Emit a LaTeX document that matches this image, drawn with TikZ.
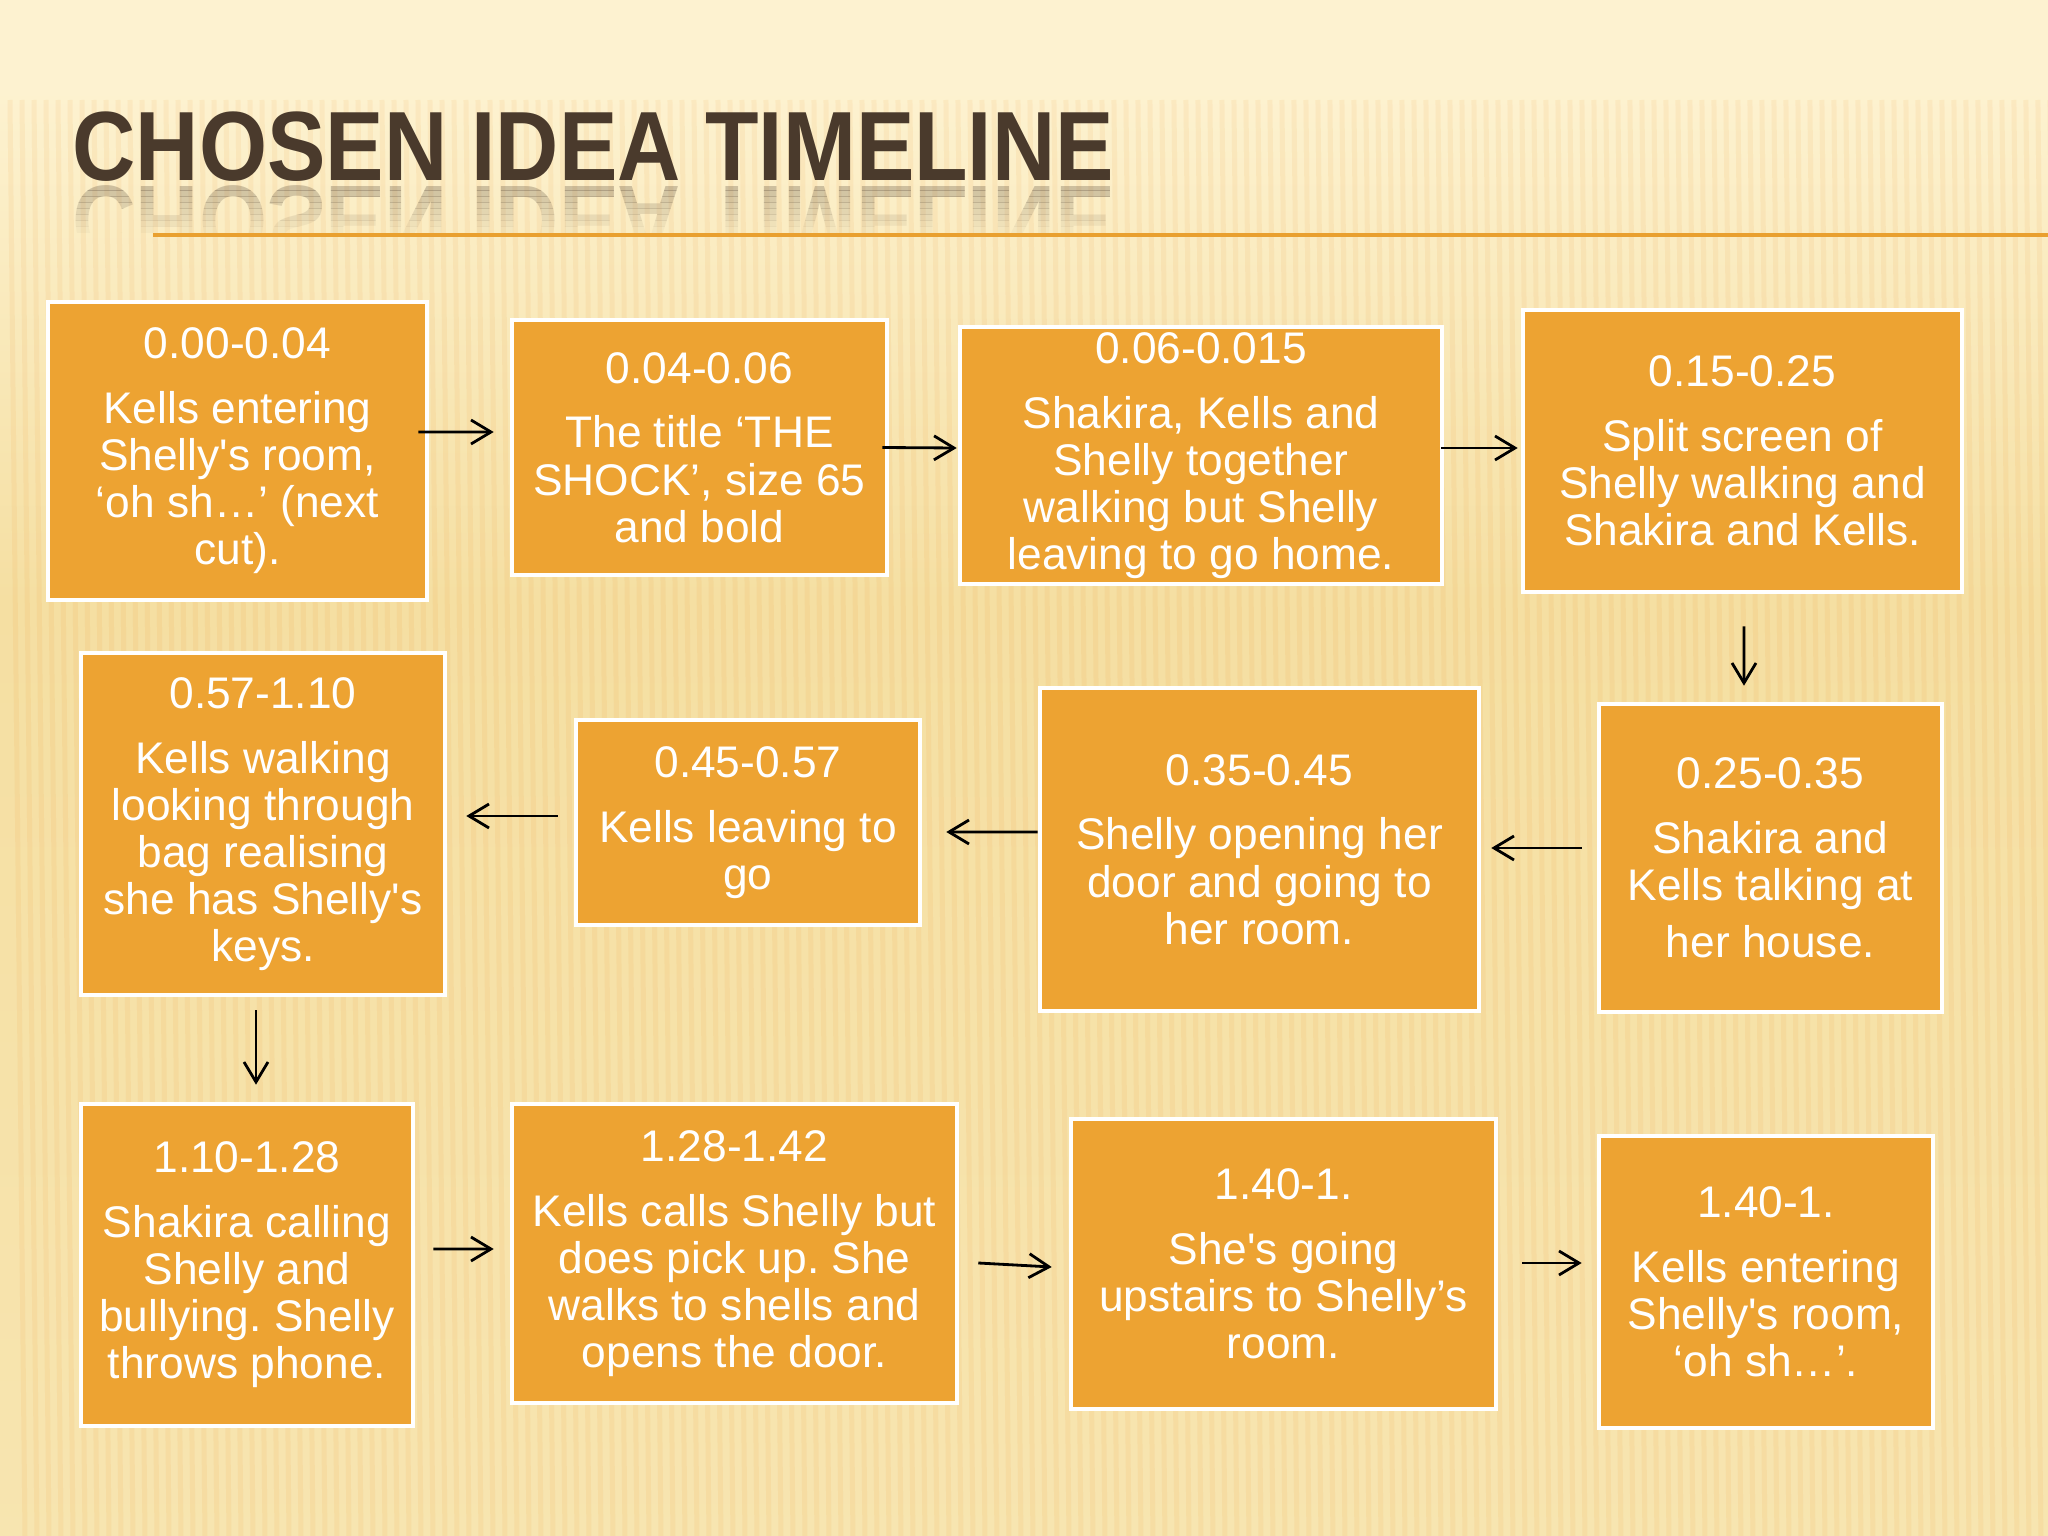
\documentclass[tikz,border=0pt]{standalone}
\usepackage{fontspec}
\setmainfont{Liberation Sans}
\newfontfamily\headfont[FakeStretch=0.89]{Liberation Sans Bold}
\usetikzlibrary{arrows.meta}
\definecolor{boxorange}{HTML}{EDA332}
\definecolor{titlebrown}{HTML}{4A3A2C}
\definecolor{rulecol}{HTML}{E9A030}
\definecolor{paper}{HTML}{FDF2D0}
\definecolor{paperdark}{HTML}{F5DFA2}
\frenchspacing

\begin{document}
\begin{tikzpicture}[>={Straight Barb[length=2mm,width=2.4mm]},
  box/.style={draw=white,line width=1.3pt,fill=boxorange,text=white,align=center,inner sep=0pt,font=\fontsize{12.6}{13.4}\selectfont},
  arr/.style={->,line width=0.8pt,black},
  headtext/.style={anchor=base west,inner sep=0pt,text=titlebrown,font=\headfont\fontsize{28}{30}\selectfont}]
\useasboundingbox (0,0) rectangle (20.48,-15.36);
% background
\fill[paper] (0,0) rectangle (20.48,-15.36);
\shade[top color=paper,bottom color=paperdark] (0,-0.9) rectangle (20.48,-6.0);
\shade[top color=paperdark,bottom color=paperdark!70!paper] (0,-6.0) rectangle (20.48,-15.36);
\foreach \x in {0.1,0.22,...,20.5}
  \draw[orange!70!brown,opacity=0.08,line width=0.05cm] (\x,-1.0) -- (\x+0.15,-15.36);

% title and its mirror image
\node[headtext] (title) at (0.72,-1.81) {CHOSEN IDEA TIMELINE};
\foreach \k in {0,...,7}{
  \pgfmathsetmacro\op{0.26-0.032*\k}
  \begin{scope}
    \clip (0,-1.85-0.06*\k) rectangle (12,-1.91-0.06*\k);
    \node[headtext,opacity=\op,yscale=-1,transform shape] (mirror) at (0.72,-1.87) {CHOSEN IDEA TIMELINE};
  \end{scope}}
\draw[rulecol,line width=0.045cm] (1.53,-2.35) -- (20.48,-2.35);

% first row
\node[box,minimum width=3.79cm,minimum height=2.98cm] (n1) at (2.375,-4.51) {0.00-0.04\\[5pt]Kells entering\\Shelly\textquotesingle s room,\\‘oh sh…’ (next\\cut).};
\node[box,minimum width=3.75cm,minimum height=2.55cm] (n2) at (6.995,-4.475) {0.04-0.06\\[5pt]The title ‘THE\\SHOCK’, size 65\\and bold};
\node[box,minimum width=4.82cm,minimum height=2.57cm] (n3) at (12.01,-4.555) {0.06-0.015\\[5pt]Shakira, Kells and\\Shelly together\\walking but Shelly\\leaving to go home.};
\node[box,minimum width=4.39cm,minimum height=2.82cm] (n4) at (17.425,-4.51) {0.15-0.25\\[5pt]Split screen of\\Shelly walking and\\Shakira and Kells.};

% second row
\node[box,minimum width=3.43cm,minimum height=3.08cm] (n5) at (17.705,-8.58) {0.25-0.35\\[5pt]Shakira and\\Kells talking at\\[3pt]her house.};
\node[box,minimum width=4.39cm,minimum height=3.23cm] (n6) at (12.595,-8.495) {0.35-0.45\\[5pt]Shelly opening her\\door and going to\\her room.};
\node[box,minimum width=3.44cm,minimum height=2.05cm] (n7) at (7.48,-8.225) {0.45-0.57\\[5pt]Kells leaving to\\go};
\node[box,minimum width=3.64cm,minimum height=3.42cm] (n8) at (2.63,-8.24) {0.57-1.10\\[5pt]Kells walking\\looking through\\bag realising\\she has Shelly\textquotesingle s\\keys.};

% third row
\node[box,minimum width=3.32cm,minimum height=3.22cm] (n9) at (2.47,-12.65) {1.10-1.28\\[5pt]Shakira calling\\Shelly and\\bullying. Shelly\\throws phone.};
\node[box,minimum width=4.45cm,minimum height=2.99cm] (n10) at (7.345,-12.535) {1.28-1.42\\[5pt]Kells calls Shelly but\\does pick up. She\\walks to shells and\\opens the door.};
\node[box,minimum width=4.25cm,minimum height=2.90cm] (n11) at (12.835,-12.64) {1.40-1.\\[5pt]She\textquotesingle s going\\upstairs to Shelly’s\\room.};
\node[box,minimum width=3.34cm,minimum height=2.92cm] (n12) at (17.66,-12.82) {1.40-1.\\[5pt]Kells entering\\Shelly\textquotesingle s room,\\‘oh sh…’.};

% arrows
\draw[arr] ([shift={(-0.11,0.19)}]n1.east) -- ([shift={(-0.16,0.155)}]n2.west);
\draw[arr] ([shift={(-0.07,0)}]n2.east) -- ([shift={(-0.01,0.075)}]n3.west);
\draw[arr] ([shift={(-0.03,0.075)}]n3.east) -- ([shift={(-0.03,0.03)}]n4.west);
\draw[arr] ([shift={(0.015,-0.32)}]n4.south) -- ([shift={(-0.265,0.16)}]n5.north);
\draw[arr] ([shift={(-0.15,0.10)}]n5.west) -- ([shift={(0.10,0.015)}]n6.east);
\draw[arr] ([shift={(0,0.175)}]n6.west) -- ([shift={(0.24,-0.095)}]n7.east);
\draw[arr] ([shift={(-0.16,0.065)}]n7.west) -- ([shift={(0.19,0.08)}]n8.east);
\draw[arr] ([shift={(-0.07,-0.13)}]n8.south) -- ([shift={(0.09,0.17)}]n9.north);
\draw[arr] ([shift={(0.18,0.16)}]n9.east) -- ([shift={(-0.16,0.045)}]n10.west);
\draw[arr] ([shift={(0.19,-0.095)}]n10.east) -- ([shift={(-0.17,-0.03)}]n11.west);
\draw[arr] ([shift={(0.24,0.01)}]n11.east) -- ([shift={(-0.15,0.19)}]n12.west);
\end{tikzpicture}
\end{document}
